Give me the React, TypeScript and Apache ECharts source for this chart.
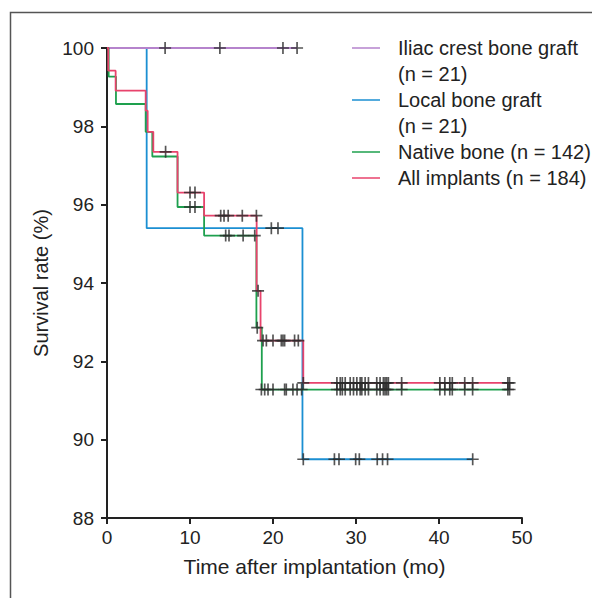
import React, { useEffect, useRef } from "react";
import * as echarts from "echarts";

// ---- data ----
const seriesNames = ["Iliac crest bone graft\n(n = 21)", "Local bone graft\n(n = 21)", "Native bone (n = 142)", "All implants (n = 184)"];
const seriesColors = ["#b583cc", "#1b8fd2", "#1ea04e", "#e8436c"];

const iliacCurve: number[][] = [[0, 100], [22.9, 100]];
const localCurve: number[][] = [[0, 100], [4.78, 95.4], [23.55, 89.5], [44.05, 89.5]];
const nativeCurve: number[][] = [
  [0, 100], [0.2, 99.27], [1.08, 98.57], [4.66, 97.86], [5.46, 97.23], [8.5, 95.94],
  [11.7, 95.21], [18.0, 92.86], [18.65, 91.28], [48.5, 91.28],
];
const allCurve: number[][] = [
  [0, 100], [0.15, 99.42], [1.04, 98.91], [4.66, 98.4], [4.9, 97.86], [5.58, 97.35],
  [8.5, 96.31], [11.7, 95.72], [18.03, 93.8], [18.5, 92.53], [23.65, 91.45], [48.6, 91.45],
];

const lateCensorTimes = [27.7, 28.1, 28.35, 28.7, 29.3, 29.7, 30.1, 30.5, 30.7, 31.1, 31.5, 32.5, 32.9, 33.3, 33.5, 33.7, 33.9, 35.5, 40.1, 40.7, 41.3, 41.6, 43.1, 44.05, 48.3, 48.5];

const iliacCensor: number[][] = [[7.0, 100], [13.6, 100], [21.2, 100], [22.9, 100]];
const localCensor: number[][] = [
  [19.8, 95.4], [20.6, 95.4],
  [23.65, 89.5], [27.4, 89.5], [27.95, 89.5], [29.96, 89.5], [30.4, 89.5], [32.56, 89.5], [33.2, 89.5], [33.8, 89.5], [44.06, 89.5],
];
const nativeCensor: number[][] = [
  [10.0, 95.94], [10.6, 95.94],
  [14.3, 95.21], [14.7, 95.21], [16.4, 95.21], [17.8, 95.21],
  [18.1, 92.86],
  [18.6, 91.28], [19.0, 91.28], [19.4, 91.28], [20.0, 91.28], [21.4, 91.28], [21.6, 91.28], [22.4, 91.28], [22.9, 91.28], [23.45, 91.28],
  ...lateCensorTimes.map((t) => [t, 91.28]),
];
const allCensor: number[][] = [
  [7.06, 97.35],
  [10.0, 96.31], [10.6, 96.31],
  [13.7, 95.72], [14.1, 95.72], [14.6, 95.72], [16.3, 95.72], [18.0, 95.72],
  [18.2, 93.8],
  [18.8, 92.53], [19.2, 92.53], [20.0, 92.53], [21.0, 92.53], [21.2, 92.53], [21.4, 92.53], [22.6, 92.53], [23.05, 92.53],
  [23.65, 91.45],
  ...lateCensorTimes.map((t) => [t, 91.45]),
];

const xTicks = { min: 0, max: 50, interval: 10 };
const yTicks = { min: 88, max: 100, interval: 2 };

const curves = [iliacCurve, localCurve, nativeCurve, allCurve];
const censors = [iliacCensor, localCensor, nativeCensor, allCensor];

const PLUS = "path://M-0.14,-1H0.14V-0.14H1V0.14H0.14V1H-0.14V0.14H-1V-0.14H-0.14Z";
const FONT = "'Liberation Sans', Arial, sans-serif";

export default function App() {
  const ref = useRef<HTMLDivElement>(null);
  useEffect(() => {
    document.body.style.margin = "0";
    if (!ref.current) return;
    const chart = echarts.init(ref.current, undefined, { renderer: "svg" });
    const drawOrder = [1, 0, 2, 3];
    const lineSeries = drawOrder.map((i) => ({
      type: "line",
      name: seriesNames[i],
      data: curves[i],
      step: "end",
      showSymbol: false,
      symbol: "none",
      lineStyle: { color: seriesColors[i], width: 1.8 },
      z: 2,
    }));
    const censorSeries = drawOrder.map((i) => ({
      type: "scatter",
      data: censors[i],
      symbol: PLUS,
      symbolSize: 12,
      itemStyle: { color: "#2a2a2a" },
      z: 3,
    }));
    const legendY0 = 48;
    const legendGraphics: any[] = [];
    let yPos = legendY0;
    seriesNames.forEach((n, i) => {
      legendGraphics.push({
        type: "line",
        shape: { x1: 352, y1: yPos, x2: 380, y2: yPos },
        style: { stroke: seriesColors[i], lineWidth: 1.5 },
      });
      legendGraphics.push({
        type: "text",
        x: 398,
        y: yPos - 13,
        style: {
          text: n,
          fontSize: 20,
          lineHeight: 26,
          fontFamily: FONT,
          fill: "#222",
          verticalAlign: "top",
          align: "left",
        },
      });
      yPos += 26 * n.split("\n").length;
    });
    chart.setOption({
      animation: false,
      grid: { left: 107, right: 70, top: 48, bottom: 80, containLabel: false },
      xAxis: {
        type: "value",
        min: xTicks.min,
        max: xTicks.max,
        interval: xTicks.interval,
        name: "Time after implantation (mo)",
        nameLocation: "middle",
        nameGap: 38,
        nameTextStyle: { fontSize: 21, color: "#222", fontFamily: FONT },
        axisLine: { show: true, onZero: false, lineStyle: { color: "#222", width: 2 } },
        axisTick: { show: true, length: 6, lineStyle: { color: "#222", width: 2 } },
        axisLabel: { fontSize: 19, color: "#222", margin: 10, fontFamily: FONT },
        splitLine: { show: false },
      },
      yAxis: {
        type: "value",
        min: yTicks.min,
        max: yTicks.max,
        interval: yTicks.interval,
        name: "Survival rate (%)",
        nameLocation: "middle",
        nameGap: 56,
        nameTextStyle: { fontSize: 20, color: "#222", fontFamily: FONT },
        axisLine: { show: true, onZero: false, lineStyle: { color: "#222", width: 2 } },
        axisTick: { show: true, length: 6, lineStyle: { color: "#222", width: 2 } },
        axisLabel: { fontSize: 19, color: "#222", margin: 13, fontFamily: FONT },
        splitLine: { show: false },
      },
      graphic: [
        {
          type: "rect",
          shape: { x: 10.5, y: 12.5, width: 700, height: 700 },
          style: { fill: "none", stroke: "#555", lineWidth: 1.5 },
          silent: true,
        },
        ...legendGraphics,
      ],
      series: [...lineSeries, ...censorSeries],
    });
    return () => chart.dispose();
  }, []);
  return <div ref={ref} style={{ width: 592, height: 598 }} />;
}
